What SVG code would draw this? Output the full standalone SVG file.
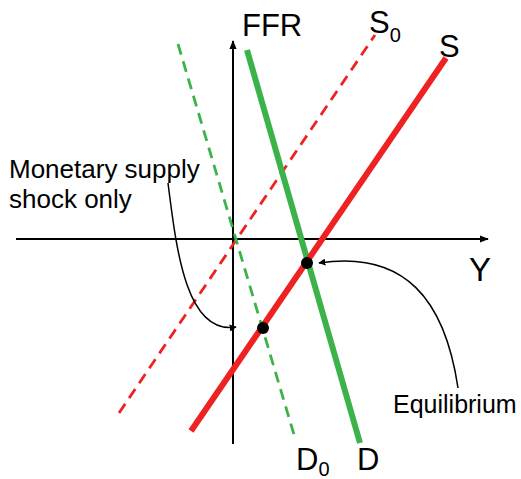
<svg xmlns="http://www.w3.org/2000/svg" width="521" height="479" viewBox="0 0 521 479">
<defs>
<marker id="ah" viewBox="0 0 10 10" refX="9" refY="5" markerWidth="7" markerHeight="7" markerUnits="userSpaceOnUse" orient="auto"><path d="M0,0 L10,5 L0,10 z" fill="#000"/></marker>
<marker id="axh" viewBox="0 0 10 10" refX="9" refY="5" markerWidth="9" markerHeight="9" markerUnits="userSpaceOnUse" orient="auto"><path d="M0,1 L10,5 L0,9 z" fill="#000"/></marker>
</defs>
<style>
text{font-family:"Liberation Sans",Arial,sans-serif;fill:#000}
.axis{stroke:#000;stroke-width:2;fill:none}
.red{stroke:#ee2222;fill:none}
.green{stroke:#3cb34a;fill:none}
.note{stroke:#000;stroke-width:1.5;fill:none}
</style>
<g id="axes">
<line class="axis" x1="233" y1="444" x2="233" y2="41" marker-end="url(#axh)"/>
<line class="axis" x1="16" y1="239" x2="488" y2="239" marker-end="url(#axh)"/>
<text x="242" y="36" font-size="31">FFR</text>
<text x="469" y="281" font-size="33">Y</text>
</g>
<g id="S0">
<line class="red" x1="119" y1="413" x2="375" y2="35" stroke-width="2.8" stroke-dasharray="11,7"/>
<text x="369" y="33" font-size="31">S<tspan font-size="20" dy="9">0</tspan></text>
</g>
<g id="D0">
<line class="green" x1="178" y1="44" x2="295" y2="438" stroke-width="2.8" stroke-dasharray="11,7"/>
<text x="296" y="470" font-size="31">D<tspan font-size="20" dy="6">0</tspan></text>
</g>
<g id="D">
<line class="green" x1="247" y1="50" x2="360" y2="443" stroke-width="6"/>
<text x="357" y="470" font-size="31">D</text>
</g>
<g id="S">
<line class="red" x1="191" y1="431" x2="446" y2="58" stroke-width="6"/>
<text x="439" y="57" font-size="31">S</text>
</g>
<g id="points">
<circle cx="307" cy="263" r="6" fill="#000"/>
<circle cx="263" cy="328" r="6" fill="#000"/>
</g>
<g id="labels">
<text x="9" y="178" font-size="26">Monetary supply</text>
<text x="9" y="208" font-size="26">shock only</text>
<text x="393" y="413" font-size="25">Equilibrium</text>
</g>
<g id="connectors">
<path class="note" d="M168,183 C176,245 185,335 236,327" marker-end="url(#ah)"/>
<path class="note" d="M458,388 C445,300 405,250 319,263" marker-end="url(#ah)"/>
</g>
</svg>
